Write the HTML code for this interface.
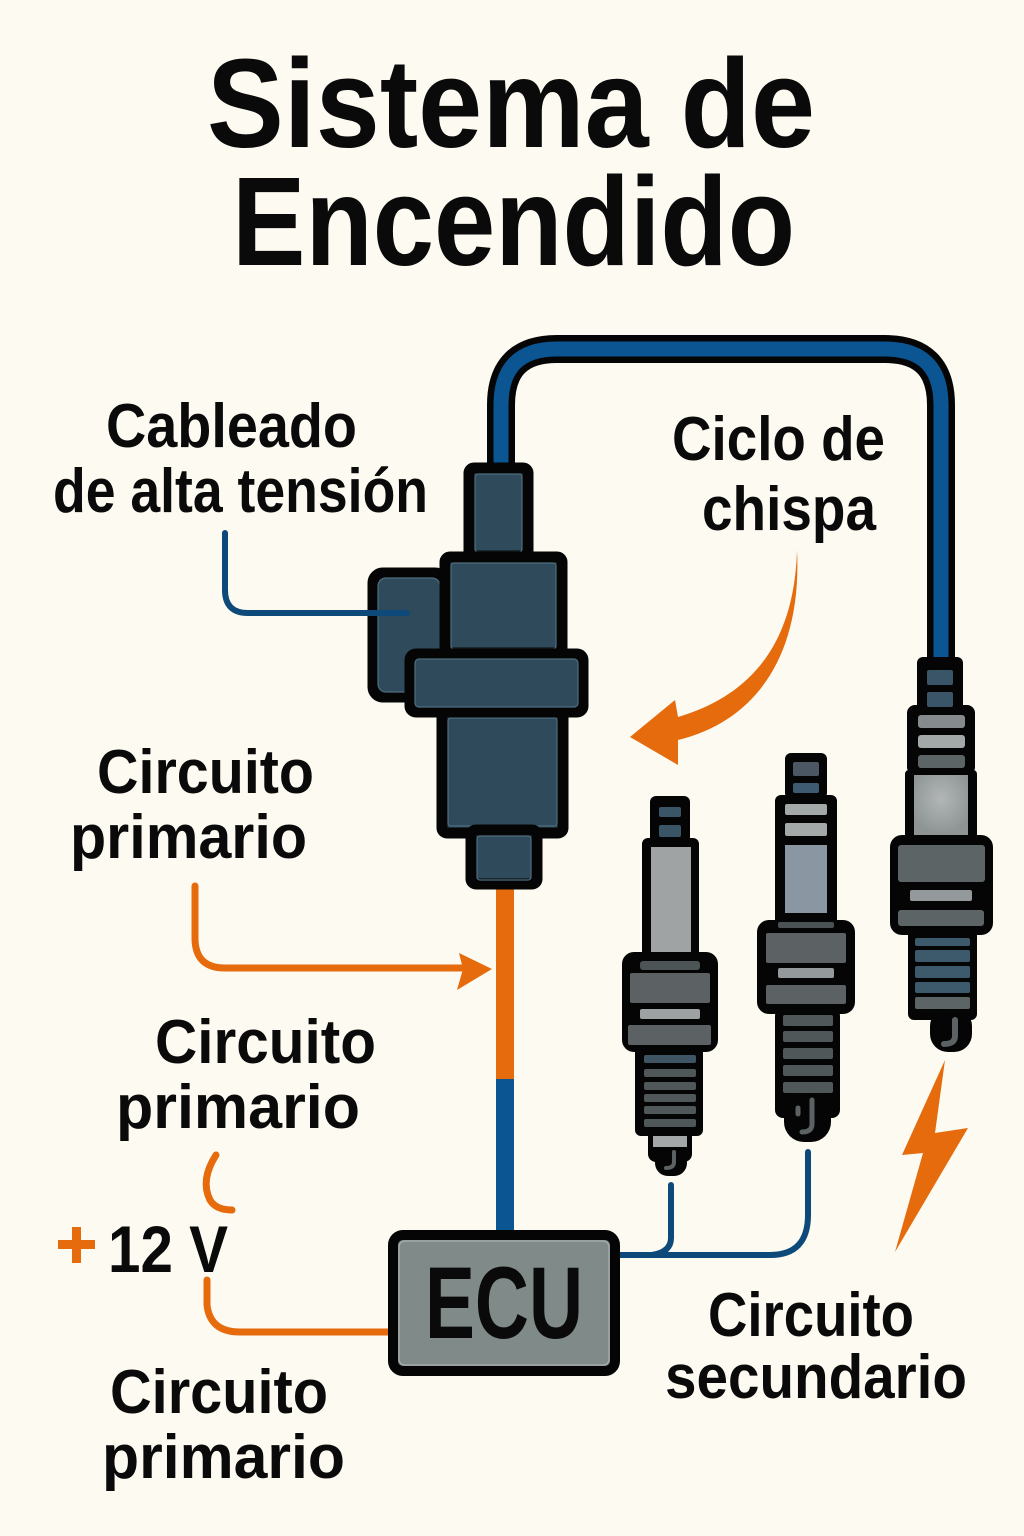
<!DOCTYPE html>
<html>
<head>
<meta charset="utf-8">
<style>
html,body{margin:0;padding:0;background:#fcfaf1;}
svg{display:block;}
text{font-family:"Liberation Sans",Arial,sans-serif;font-weight:bold;fill:#0a0a0a;}
</style>
</head>
<body>
<svg width="1024" height="1536" viewBox="0 0 1024 1536" xmlns="http://www.w3.org/2000/svg">
<rect width="1024" height="1536" fill="#fcfaf1"/>

<!-- Title -->
<text x="207" y="147" font-size="126" textLength="608" lengthAdjust="spacingAndGlyphs">Sistema de</text>
<text x="232" y="265" font-size="126" textLength="563" lengthAdjust="spacingAndGlyphs">Encendido</text>

<!-- Labels -->
<text x="106" y="447" font-size="62" textLength="251" lengthAdjust="spacingAndGlyphs">Cableado</text>
<text x="53" y="512" font-size="62" textLength="375" lengthAdjust="spacingAndGlyphs">de alta tensión</text>
<text x="672" y="460" font-size="62" textLength="213" lengthAdjust="spacingAndGlyphs">Ciclo de</text>
<text x="702" y="530" font-size="62" textLength="174" lengthAdjust="spacingAndGlyphs">chispa</text>
<text x="97" y="793" font-size="62" textLength="217" lengthAdjust="spacingAndGlyphs">Circuito</text>
<text x="70" y="858" font-size="62" textLength="237" lengthAdjust="spacingAndGlyphs">primario</text>
<text x="155" y="1063" font-size="62" textLength="221" lengthAdjust="spacingAndGlyphs">Circuito</text>
<text x="116" y="1128" font-size="62" textLength="244" lengthAdjust="spacingAndGlyphs">primario</text>
<text x="108" y="1272" font-size="66" textLength="120" lengthAdjust="spacingAndGlyphs">12 V</text>
<text x="708" y="1336" font-size="62" textLength="206" lengthAdjust="spacingAndGlyphs">Circuito</text>
<text x="665" y="1398" font-size="62" textLength="302" lengthAdjust="spacingAndGlyphs">secundario</text>
<text x="110" y="1413" font-size="62" textLength="218" lengthAdjust="spacingAndGlyphs">Circuito</text>
<text x="102" y="1478" font-size="62" textLength="243" lengthAdjust="spacingAndGlyphs">primario</text>

<!-- plus sign -->
<rect x="58" y="1240" width="37" height="9" fill="#e56b0c"/>
<rect x="72" y="1227" width="9" height="36" fill="#e56b0c"/>

<!-- Top HT wire -->
<path d="M501 466 V405 Q501 349 557 349 H885 Q941 349 941 405 V664" fill="none" stroke="#050505" stroke-width="28"/>
<path d="M501 466 V405 Q501 349 557 349 H885 Q941 349 941 405 V664" fill="none" stroke="#0b5592" stroke-width="15"/>

<!-- Orange/blue primary wire into ECU -->
<rect x="496" y="885" width="18" height="196" fill="#e56b0c"/>
<rect x="496" y="1079" width="18" height="155" fill="#0b5592"/>

<!-- Coil -->
<g stroke-linejoin="round">
  <rect x="469" y="468" width="59" height="88" rx="5" fill="#2f4a5a" stroke="#050505" stroke-width="11"/>
  <rect x="475" y="474" width="47" height="78" rx="3" fill="none" stroke="#4e6e80" stroke-width="1.2"/>

  <rect x="373" y="573" width="72" height="124" rx="10" fill="#2f4a5a" stroke="#050505" stroke-width="11"/>
  <rect x="378" y="578" width="62" height="114" rx="8" fill="none" stroke="#4e6e80" stroke-width="1.2"/>

  <rect x="445" y="557" width="117" height="96" rx="5" fill="#2f4a5a" stroke="#050505" stroke-width="11"/>
  <rect x="451" y="563" width="105" height="86" rx="3" fill="none" stroke="#4e6e80" stroke-width="1.2"/>

  <rect x="442" y="712" width="121" height="121" rx="5" fill="#2f4a5a" stroke="#050505" stroke-width="11"/>
  <rect x="448" y="718" width="109" height="108" rx="3" fill="none" stroke="#4e6e80" stroke-width="1.2"/>

  <rect x="471" y="830" width="66" height="54" rx="5" fill="#2f4a5a" stroke="#050505" stroke-width="11"/>
  <rect x="477" y="836" width="54" height="44" rx="3" fill="none" stroke="#4e6e80" stroke-width="1.2"/>

  <rect x="410" y="654" width="173" height="58" rx="6" fill="#2f4a5a" stroke="#050505" stroke-width="11"/>
  <rect x="415" y="659" width="163" height="48" rx="4" fill="none" stroke="#4e6e80" stroke-width="1.2"/>
</g>

<!-- Cableado leader -->
<path d="M225 533 V590 Q225 613 248 613 H407" fill="none" stroke="#0d4a7a" stroke-width="6" stroke-linecap="round"/>

<!-- Orange arrow "Circuito primario" to wire -->
<path d="M195 886 V938 Q195 968 225 968 H470" fill="none" stroke="#e56b0c" stroke-width="7" stroke-linecap="round"/>
<polygon points="492,969 459,953 463,969 457,990" fill="#e56b0c"/>

<!-- Ciclo de chispa arrow -->
<path d="M797 550 C795 620 770 690 678 717 L675 700 L630 737 L678 765 L678 740 C760 720 802 650 797 550 Z" fill="#e56b0c"/>

<!-- 12V orange curves -->
<path d="M216 1155 Q200 1180 210 1200 Q216 1210 232 1210" fill="none" stroke="#e56b0c" stroke-width="7" stroke-linecap="round"/>
<path d="M207 1280 V1305 Q210 1332 240 1332 H390" fill="none" stroke="#e56b0c" stroke-width="7" stroke-linecap="round"/>

<!-- ECU secondary wires -->
<path d="M618 1255 H770 Q808 1255 808 1215 V1152" fill="none" stroke="#0d4a7a" stroke-width="6" stroke-linecap="round"/>
<path d="M671 1185 V1238 Q671 1252 652 1255" fill="none" stroke="#0d4a7a" stroke-width="6" stroke-linecap="round"/>

<!-- ECU -->
<rect x="393" y="1235" width="222" height="136" rx="10" fill="#7f8a89" stroke="#050505" stroke-width="10"/>
<rect x="399" y="1241" width="210" height="124" rx="6" fill="none" stroke="#a9b1b0" stroke-width="1.2"/>
<text x="425" y="1338" font-size="102" textLength="158" lengthAdjust="spacingAndGlyphs">ECU</text>

<!-- Spark plug 1 -->
<g fill="#050505">
  <rect x="650" y="796" width="40" height="50" rx="6"/>
  <rect x="642" y="838" width="57" height="122" rx="6"/>
  <rect x="622" y="952" width="96" height="100" rx="12"/>
  <rect x="635" y="1046" width="68" height="90" rx="6"/>
  <rect x="648" y="1128" width="44" height="34" rx="8"/>
  <rect x="655" y="1150" width="32" height="26" rx="13"/>
</g>
<rect x="659" y="807" width="22" height="10" rx="2" fill="#3a5566"/>
<rect x="659" y="825" width="22" height="12" rx="2" fill="#3a5566"/>
<rect x="651" y="847" width="40" height="105" fill="#9fa3a3"/>
<rect x="640" y="961" width="60" height="9" rx="3" fill="#4d5455"/>
<rect x="630" y="973" width="80" height="30" rx="2" fill="#5c6263"/>
<rect x="640" y="1009" width="60" height="10" rx="2" fill="#9ea2a2"/>
<rect x="628" y="1025" width="83" height="20" rx="2" fill="#5c6263"/>
<g fill="#4f5758">
  <rect x="644" y="1055" width="52" height="8" rx="2" fill="#3f5563"/>
  <rect x="644" y="1069" width="52" height="8" rx="2"/>
  <rect x="644" y="1082" width="52" height="8" rx="2"/>
  <rect x="644" y="1094" width="52" height="8" rx="2"/>
  <rect x="644" y="1106" width="52" height="8" rx="2"/>
  <rect x="644" y="1119" width="52" height="8" rx="2"/>
</g>
<rect x="653" y="1136" width="34" height="11" fill="#a4a8a8"/>
<path d="M674 1152 V1162 Q674 1168 666 1168" fill="none" stroke="#5c6263" stroke-width="4" stroke-linecap="round"/>

<!-- Spark plug 2 -->
<g fill="#050505">
  <rect x="785" y="753" width="42" height="46" rx="6"/>
  <rect x="775" y="795" width="62" height="132" rx="6"/>
  <rect x="757" y="920" width="98" height="94" rx="12"/>
  <rect x="775" y="1008" width="65" height="110" rx="8"/>
  <rect x="784" y="1095" width="47" height="47" rx="20"/>
</g>
<rect x="793" y="762" width="26" height="14" rx="2" fill="#4b5864"/>
<rect x="793" y="783" width="26" height="10" rx="2" fill="#3e5a70"/>
<rect x="785" y="804" width="42" height="11" rx="2" fill="#a3a8a8"/>
<rect x="785" y="823" width="42" height="13" rx="2" fill="#a3a8a8"/>
<rect x="785" y="845" width="42" height="68" fill="#8a97a3"/>
<rect x="778" y="922" width="56" height="6" rx="2" fill="#4a5152"/>
<rect x="766" y="933" width="80" height="30" rx="2" fill="#5c6263"/>
<rect x="778" y="968" width="56" height="10" rx="2" fill="#949a9b"/>
<rect x="766" y="985" width="80" height="19" rx="2" fill="#5c6263"/>
<g fill="#4f5758">
  <rect x="783" y="1015" width="50" height="11" rx="2"/>
  <rect x="783" y="1031" width="50" height="11" rx="2"/>
  <rect x="783" y="1048" width="50" height="11" rx="2"/>
  <rect x="783" y="1065" width="50" height="11" rx="2"/>
  <rect x="783" y="1082" width="50" height="11" rx="2"/>
</g>
<path d="M798 1108 V1114" fill="none" stroke="#5c6263" stroke-width="5" stroke-linecap="round"/>
<path d="M812 1100 V1124 Q812 1132 802 1132" fill="none" stroke="#5c6263" stroke-width="5" stroke-linecap="round"/>

<!-- Spark plug 3 -->
<g fill="#050505">
  <rect x="917" y="657" width="46" height="55" rx="6"/>
  <rect x="907" y="705" width="68" height="70" rx="8"/>
  <rect x="905" y="770" width="72" height="70" rx="4"/>
  <rect x="890" y="835" width="103" height="100" rx="12"/>
  <rect x="908" y="930" width="69" height="90" rx="6"/>
  <rect x="930" y="1008" width="42" height="44" rx="18"/>
</g>
<rect x="927" y="670" width="26" height="15" rx="2" fill="#3b5568"/>
<rect x="927" y="692" width="26" height="15" rx="2" fill="#3b5568"/>
<rect x="918" y="715" width="47" height="13" rx="3" fill="#858b8c"/>
<rect x="918" y="735" width="47" height="13" rx="3" fill="#a3a8a8"/>
<rect x="918" y="755" width="47" height="13" rx="3" fill="#5d6465"/>
<defs>
  <radialGradient id="ins" cx="0.5" cy="0.4" r="0.6">
    <stop offset="0" stop-color="#b2b7b6"/>
    <stop offset="1" stop-color="#8e9494"/>
  </radialGradient>
</defs>
<rect x="914" y="775" width="54" height="60" fill="url(#ins)"/>
<rect x="898" y="845" width="87" height="37" rx="3" fill="#5d6465"/>
<rect x="910" y="890" width="62" height="11" rx="2" fill="#949a9b"/>
<rect x="898" y="910" width="86" height="16" rx="3" fill="#5d6465"/>
<g fill="#3d5a6c">
  <rect x="915" y="938" width="55" height="8" rx="2"/>
  <rect x="915" y="950" width="55" height="12" rx="2"/>
  <rect x="915" y="966" width="55" height="12" rx="2"/>
  <rect x="915" y="982" width="55" height="11" rx="2"/>
  <rect x="915" y="997" width="55" height="12" rx="2" fill="#5d6465"/>
</g>
<path d="M955 1020 V1036 Q955 1044 944 1044" fill="none" stroke="#5c6263" stroke-width="6" stroke-linecap="round"/>

<!-- Lightning bolt -->
<polygon points="945,1060 902,1155 923,1153 895,1252 968,1128 935,1133" fill="#e56b0c"/>
</svg>
</body>
</html>
